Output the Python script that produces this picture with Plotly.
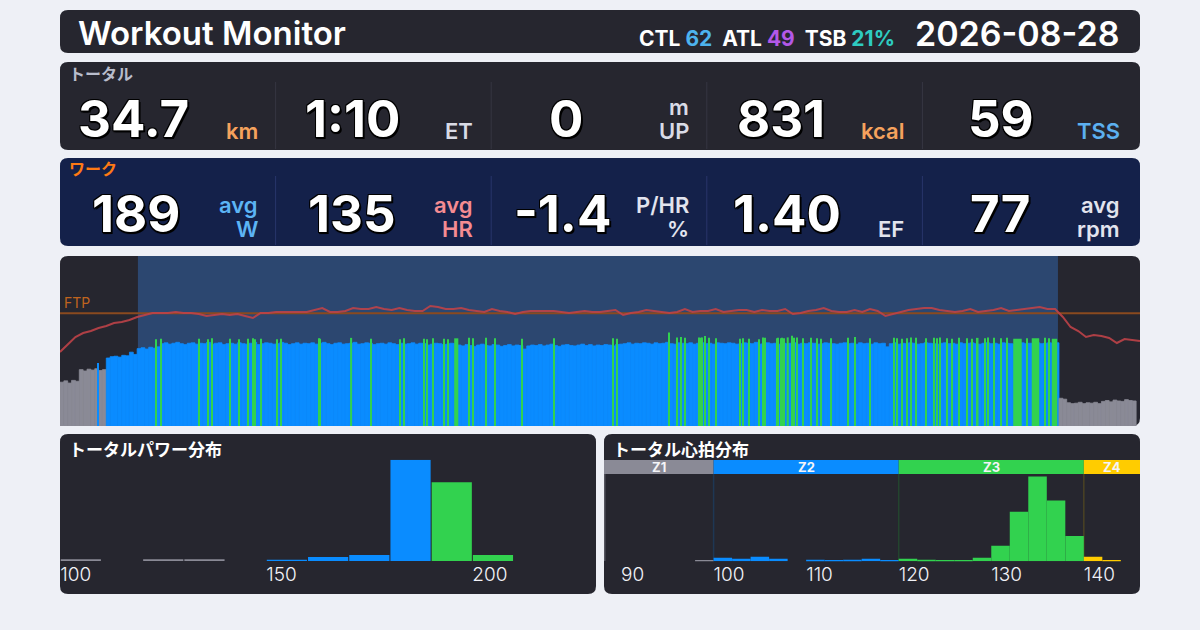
import plotly.graph_objects as go

W, H = 1200, 630
FONT = "Inter, 'Noto Sans CJK JP', sans-serif"
JP_FONT = "'Noto Sans CJK JP', Inter, sans-serif"

# ---------------- data ----------------
HEADER_TITLE = "Workout Monitor"
DATE = "2026-08-28"
CTL, ATL, TSB = "62", "49", "21%"

TOTAL_LABEL = "トータル"
TOTAL_VALUES = ["34.7", "1:10", "0", "831", "59"]
TOTAL_UNITS_TOP = ["", "", "m", "", ""]
TOTAL_UNITS = ["km", "ET", "UP", "kcal", "TSS"]

WORK_LABEL = "ワーク"
WORK_VALUES = ["189", "135", "-1.4", "1.40", "77"]
WORK_UNITS_TOP = ["avg", "avg", "P/HR", "", "avg"]
WORK_UNITS = ["W", "HR", "%", "EF", "rpm"]

FTP_W = 252
POWER_ZONE_PCT = [0.55, 0.75, 0.90]
DURATION_S = 4200
WORK_START_S, WORK_END_S = 303, 3881

# power, one value per 15 s
STEP_S = 15
POWER_W = [
    98, 101, 96, 102, 100,
    126, 123, 127, 125, 128, 124, 126,
    152, 155, 156, 154, 158, 157, 165, 160,
    173, 175, 172, 176, 174, 177,
    184, 186, 183, 185, 187, 184, 182, 185, 186, 183, 185, 184, 187, 183, 185, 186, 182, 184, 185, 183,
    186, 184, 183, 185, 187, 182, 184, 186, 185, 183, 184, 187, 185, 182, 184, 186, 183, 185, 184, 186,
    183, 185, 187, 184, 182, 185, 186, 183, 184, 185, 187, 183, 184, 186, 185, 182, 184, 185, 183, 186,
    184, 182, 185, 183, 184, 186, 183, 185, 184, 181, 183, 185, 184, 182, 183, 185, 184,
    181, 179, 182, 180, 178, 181, 183, 180, 179, 182, 181, 178, 180, 182, 179, 181, 180, 172, 179, 181,
    180, 182, 179, 181, 183, 180, 178, 181, 182, 180, 179, 181, 183, 180, 182, 179, 181, 180, 182, 181,
    179, 182, 183,
    184, 186, 183, 185, 184, 186, 185, 183, 186, 184, 185, 187, 184, 183, 186, 185, 184, 186, 183, 185,
    186, 184, 185, 183, 186, 185, 184, 186, 185, 183, 184, 186, 185, 184, 187, 183, 185, 186, 184, 185,
    183, 186, 184, 185, 186, 183, 185, 184, 186, 185, 183, 184, 186, 185, 184, 183, 185, 186, 184, 185,
    183, 186,
    184, 185, 183, 186, 184, 185, 177, 184, 186, 183, 185, 184, 186, 185, 183, 184, 186, 185, 184, 183,
    185, 186, 184, 185, 183, 186, 184, 185, 186, 184, 183, 185, 186, 184, 185, 183, 186, 185, 184, 183,
    185, 186, 184, 185, 183, 186, 184, 185, 186, 185, 186,
    62, 60, 52, 50, 51, 53, 50, 52, 51, 53, 50, 55, 57, 54, 58, 56, 55, 59, 57, 56,
]

# short surges (start s, length s, watts)
SPIKE_START_S = [
    146, 373, 389, 538, 572, 590, 658, 693, 728, 749, 756, 778, 843, 856, 1004, 1011, 1128, 1206,
    1320, 1335, 1413, 1426, 1447, 1493, 1508, 1533, 1589, 1603, 1654, 1688, 1794, 1918, 2148, 2163,
    2366, 2397, 2412, 2428, 2482, 2489, 2495, 2507, 2520, 2548, 2643, 2653, 2677, 2717, 2731, 2739,
    2786, 2792, 2800, 2807, 2813, 2826, 2844, 2852, 2865, 2887, 2918, 2941, 2957, 2997, 3062, 3091,
    3147, 3241, 3254, 3273, 3293, 3306, 3325, 3364, 3396, 3407, 3422, 3448, 3468, 3493, 3526, 3545,
    3565, 3597, 3606, 3630, 3656, 3682, 3707, 3757, 3779, 3827, 3843, 3857,
]
SPIKE_LEN_S = [
    4, 4, 4, 4, 4, 4, 4, 4, 4, 4, 4, 4, 4, 4, 4, 4, 8, 4,
    4, 4, 6, 4, 4, 4, 4, 16, 4, 4, 4, 4, 4, 4, 4, 4,
    4, 4, 4, 4, 4, 4, 4, 4, 4, 4, 4, 4, 4, 4, 4, 4,
    4, 4, 4, 4, 4, 8, 4, 4, 4, 4, 4, 4, 4, 4, 4, 4,
    4, 4, 4, 4, 4, 7, 4, 4, 4, 4, 4, 4, 4, 4, 4, 4,
    7, 4, 4, 4, 4, 4, 33, 4, 29, 4, 4, 21,
]
SPIKE_W = [
    141, 194, 195, 195, 194, 196, 195, 194, 195, 196, 194, 195, 194, 195, 196, 195, 197, 195,
    194, 196, 195, 194, 196, 195, 194, 196, 197, 196, 197, 196, 195, 196, 196, 195,
    209, 198, 199, 197, 198, 197, 198, 201, 197, 196, 195, 196, 195, 194, 198, 197,
    196, 197, 196, 197, 196, 198, 202, 197, 198, 196, 197, 196, 195, 196, 197, 199,
    196, 197, 196, 195, 196, 198, 197, 196, 197, 196, 198, 196, 195, 197, 196, 195,
    197, 196, 198, 197, 196, 197, 195, 196, 196, 197, 196, 195,
]

# heart rate, one value per 30 s
HR_STEP_S = 30
HR_BPM = [
    94, 101, 109, 113, 115, 118, 120, 123, 124, 126,
    129, 131, 133, 133, 133, 134, 133, 133, 132, 130,
    131, 132, 131, 132, 130, 128, 133, 133, 134, 134,
    134, 134, 134, 136, 138, 134, 134, 135, 138, 137,
    137, 139, 137, 136, 138, 136, 135, 135, 140, 139,
    137, 137, 138, 136, 135, 134, 137, 135, 134, 132,
    134, 135, 135, 135, 135, 134, 133, 134, 135, 134,
    134, 135, 136, 131, 133, 134, 136, 135, 134, 133,
    134, 137, 134, 135, 135, 137, 134, 135, 136, 136,
    134, 136, 135, 135, 137, 132, 133, 135, 136, 138,
    135, 134, 134, 136, 134, 137, 135, 130, 132, 134,
    136, 137, 138, 138, 136, 135, 134, 135, 137, 134,
    135, 136, 138, 135, 136, 137, 138, 139, 137, 137,
    129, 119, 115, 109, 111, 110, 108, 103, 107, 106,
    105,
]

POWER_HIST_TITLE = "トータルパワー分布"
POWER_BIN_W = 10
POWER_BINS = [100, 120, 130, 150, 160, 170, 180, 190, 200]
POWER_BIN_S = [35, 35, 35, 15, 85, 125, 2110, 1640, 125]
POWER_TICKS = [100, 150, 200]

HR_HIST_TITLE = "トータル心拍分布"
HR_BIN_W = 2
HR_BINS = list(range(98, 144, 2))
HR_BIN_S = [10, 55, 40, 70, 40, 0, 25, 10, 25, 40, 10, 40, 25, 10, 10, 55, 240, 765, 1310, 940, 390, 70, 10]
HR_ZONE_NAMES = ["Z1", "Z2", "Z3", "Z4"]
HR_ZONE_EDGES = [100, 120, 140]
HR_TICKS = [90, 100, 110, 120, 130, 140]

ZONE_COLORS = ["#8a8a96", "#0a8cff", "#32d24f", "#ffcc00"]
ZONE_LINE_COLORS = ["#55555f", "#1e3754", "#23442e", "#4a4224"]


# ---------------- helpers ----------------
def X(px):
    return px / W


def Y(py):
    return 1 - py / H


def rounded(x0, y0, x1, y1, r=8, fill="#26262f"):
    p = (f"M {X(x0 + r)},{Y(y0)} L {X(x1 - r)},{Y(y0)} Q {X(x1)},{Y(y0)} {X(x1)},{Y(y0 + r)} "
         f"L {X(x1)},{Y(y1 - r)} Q {X(x1)},{Y(y1)} {X(x1 - r)},{Y(y1)} "
         f"L {X(x0 + r)},{Y(y1)} Q {X(x0)},{Y(y1)} {X(x0)},{Y(y1 - r)} "
         f"L {X(x0)},{Y(y0 + r)} Q {X(x0)},{Y(y0)} {X(x0 + r)},{Y(y0)} Z")
    return dict(type="path", path=p, xref="paper", yref="paper", fillcolor=fill,
                line=dict(width=0), layer="below")


def power_zone(w):
    return sum(w > pct * FTP_W for pct in POWER_ZONE_PCT)


def hr_zone(b):
    return sum(b >= e for e in HR_ZONE_EDGES)


def text(x, y, s, size, color="white", weight=400, xanchor="left", family=FONT, shadow=None, **kw):
    font = dict(family=family, size=size, color=color, weight=weight)
    if shadow:
        font["shadow"] = shadow
    return dict(x=X(x), y=Y(y), xref="paper", yref="paper", text=s, showarrow=False,
                xanchor=xanchor, yanchor="middle", font=font, **kw)


# ---------------- figure ----------------
fig = go.Figure()

# time series
bar_colors = [ZONE_COLORS[power_zone(w)] for w in POWER_W]
fig.add_trace(go.Bar(
    x=[i * STEP_S + STEP_S / 2 for i in range(len(POWER_W))], y=POWER_W, width=STEP_S,
    marker=dict(color=bar_colors, line=dict(width=0.8, color=bar_colors)),
    xaxis="x", yaxis="y", hoverinfo="skip"))
fig.add_trace(go.Bar(
    x=[s + l / 2 for s, l in zip(SPIKE_START_S, SPIKE_LEN_S)], y=SPIKE_W, width=SPIKE_LEN_S,
    marker=dict(color=[ZONE_COLORS[power_zone(w)] for w in SPIKE_W], line=dict(width=0)),
    xaxis="x", yaxis="y", hoverinfo="skip"))
fig.add_trace(go.Scatter(
    x=[0, DURATION_S], y=[FTP_W, FTP_W], mode="lines", line=dict(color="#8a4a1f", width=2),
    xaxis="x", yaxis="y", hoverinfo="skip"))
fig.add_trace(go.Scatter(
    x=[i * HR_STEP_S for i in range(len(HR_BPM))], y=HR_BPM, mode="lines",
    line=dict(color="rgba(190,66,72,0.9)", width=2), xaxis="x", yaxis="y2", hoverinfo="skip"))

# power distribution
fig.add_trace(go.Bar(
    x=[b + POWER_BIN_W / 2 for b in POWER_BINS], y=POWER_BIN_S, width=POWER_BIN_W * 0.975,
    marker=dict(color=[ZONE_COLORS[power_zone(b)] for b in POWER_BINS], line=dict(width=0)),
    xaxis="x3", yaxis="y3", hoverinfo="skip"))

# heart rate distribution
fig.add_trace(go.Bar(
    x=[b + HR_BIN_W / 2 for b in HR_BINS], y=HR_BIN_S, width=HR_BIN_W,
    marker=dict(color=[ZONE_COLORS[hr_zone(b)] for b in HR_BINS], line=dict(width=0)),
    xaxis="x4", yaxis="y4", hoverinfo="skip"))

hr_range = [88.16, 146.07]
tick_font = dict(family=FONT, size=19, color="#f2f2f7", weight=300)
hist_x = dict(showgrid=False, zeroline=False, showline=False, ticks="", tickfont=tick_font,
              ticklabelposition="outside right", ticklabelshift=0, fixedrange=True)
hidden = dict(visible=False, fixedrange=True)

fig.update_layout(
    width=W, height=H, autosize=False, margin=dict(l=0, r=0, t=0, b=0),
    paper_bgcolor="#eef0f6", plot_bgcolor="rgba(0,0,0,0)", showlegend=False,
    barmode="overlay", hovermode=False,
    xaxis=dict(domain=[X(60), X(1140)], range=[0, DURATION_S], anchor="y", **hidden),
    yaxis=dict(domain=[Y(426), Y(256)], range=[0, 380], **hidden),
    yaxis2=dict(overlaying="y", range=[20, 190], **hidden),
    xaxis3=dict(domain=[X(60), X(596)], range=[99.95, 230], anchor="y3", tickvals=POWER_TICKS, **hist_x),
    yaxis3=dict(domain=[Y(561), Y(459.7)], range=[0, max(POWER_BIN_S)], anchor="x3", **hidden),
    xaxis4=dict(domain=[X(604), X(1140)], range=hr_range, anchor="y4", tickvals=HR_TICKS, **hist_x),
    yaxis4=dict(domain=[Y(561.3), Y(474)], range=[0, 1350], anchor="x4", **hidden),
)

shapes = [
    rounded(60, 10, 1140, 53),
    rounded(60, 62, 1140, 150),
    rounded(60, 158, 1140, 246, fill="#14214a"),
    rounded(60, 256, 1140, 426),
    rounded(60, 434, 596, 594),
    rounded(604, 434, 1140, 594),
    dict(type="rect", xref="x", yref="paper", x0=WORK_START_S, x1=WORK_END_S, y0=Y(426), y1=Y(256),
         fillcolor="#2c4770", line=dict(width=0), layer="below"),
]
cell_edges = [60 + k * 215.6 for k in range(6)]
for xe in cell_edges[1:-1]:
    shapes.append(dict(type="line", xref="paper", yref="paper", x0=X(xe), x1=X(xe), y0=Y(82), y1=Y(149),
                       line=dict(color="#363642", width=1), layer="below"))
    shapes.append(dict(type="line", xref="paper", yref="paper", x0=X(xe), x1=X(xe), y0=Y(176), y1=Y(245),
                       line=dict(color="#28356a", width=1), layer="below"))

zone_bounds = [hr_range[0]] + HR_ZONE_EDGES + [hr_range[1]]
annotations = []
for k, name in enumerate(HR_ZONE_NAMES):
    x0, x1 = zone_bounds[k], zone_bounds[k + 1]
    shapes.append(dict(type="rect", xref="x4", yref="paper", x0=x0, x1=x1, y0=Y(474), y1=Y(460),
                       fillcolor=ZONE_COLORS[k], line=dict(width=0)))
    shapes.append(dict(type="line", xref="x4", yref="paper", x0=x0 + (0.08 if k == 0 else 0),
                       x1=x0 + (0.08 if k == 0 else 0), y0=Y(561), y1=Y(474),
                       line=dict(color=ZONE_LINE_COLORS[k], width=1.5), layer="below"))
    annotations.append(dict(x=(x0 + x1) / 2, y=Y(467), xref="x4", yref="paper", text=name,
                            showarrow=False, xanchor="center", yanchor="middle",
                            font=dict(family=FONT, size=13, color="#f4f4f8", weight=700)))

fig.add_annotation(x=0, y=FTP_W, xref="x", yref="y", text="FTP", showarrow=False,
                   xanchor="left", yanchor="bottom", xshift=2,
                   font=dict(family=FONT, size=14, color="#c0641e"))

num_shadow = "2px 2px 0px #000, -1px -1px 0px #000, 1px -1px 0px #000, -1px 1px 0px #000, 0px 2px 1px #000"

# header
annotations.append(text(76, 33, HEADER_TITLE, 33, weight=600))
annotations.append(text(
    897, 38,
    f"CTL <span style='color:#4db3ef'>{CTL}</span>  ATL <span style='color:#b358e8'>{ATL}</span>"
    f"  TSB <span style='color:#2ecbc1'>{TSB}</span>", 21, weight=700, xanchor="right"))
annotations.append(text(1121, 33, DATE, 34, weight=600, xanchor="right"))

# stat rows
annotations.append(text(67, 73, TOTAL_LABEL, 16, color="#b9bdcc", weight=700, family=JP_FONT))
annotations.append(text(67, 168, WORK_LABEL, 16, color="#ff7a14", weight=700, family=JP_FONT))

total_centers = [133, 352, 566, 781, 1001]
work_centers = [136, 352, 562, 787, 1000]
unit_right = [e - 16 for e in cell_edges[1:]]
total_unit_colors = ["#f5a25d", "#d9dbe6", "#d9dbe6", "#f5a25d", "#5cb0f0"]
work_unit_colors = ["#5cb4f5", "#f58c92", "#e2e4ee", "#e2e4ee", "#e2e4ee"]

for k in range(5):
    annotations.append(text(total_centers[k], 118, TOTAL_VALUES[k], 51, weight=700,
                            xanchor="center", shadow=num_shadow))
    annotations.append(text(unit_right[k], 131, TOTAL_UNITS[k], 22, color=total_unit_colors[k],
                            weight=600, xanchor="right"))
    if TOTAL_UNITS_TOP[k]:
        annotations.append(text(unit_right[k], 107, TOTAL_UNITS_TOP[k], 22, color=total_unit_colors[k],
                                weight=600, xanchor="right"))
    annotations.append(text(work_centers[k], 213, WORK_VALUES[k], 51, weight=700,
                            xanchor="center", shadow=num_shadow))
    annotations.append(text(unit_right[k], 229, WORK_UNITS[k], 22, color=work_unit_colors[k],
                            weight=600, xanchor="right"))
    if WORK_UNITS_TOP[k]:
        annotations.append(text(unit_right[k], 205, WORK_UNITS_TOP[k], 22, color=work_unit_colors[k],
                                weight=600, xanchor="right"))

annotations.append(text(67, 448, POWER_HIST_TITLE, 17, weight=700, family=JP_FONT))
annotations.append(text(611, 448, HR_HIST_TITLE, 17, weight=700, family=JP_FONT))

for a in annotations:
    fig.add_annotation(a)
fig.update_layout(shapes=shapes)

fig.write_html("out.html", config={"displayModeBar": False},
               post_script="document.body.style.margin='0';document.body.style.overflow='hidden';")
